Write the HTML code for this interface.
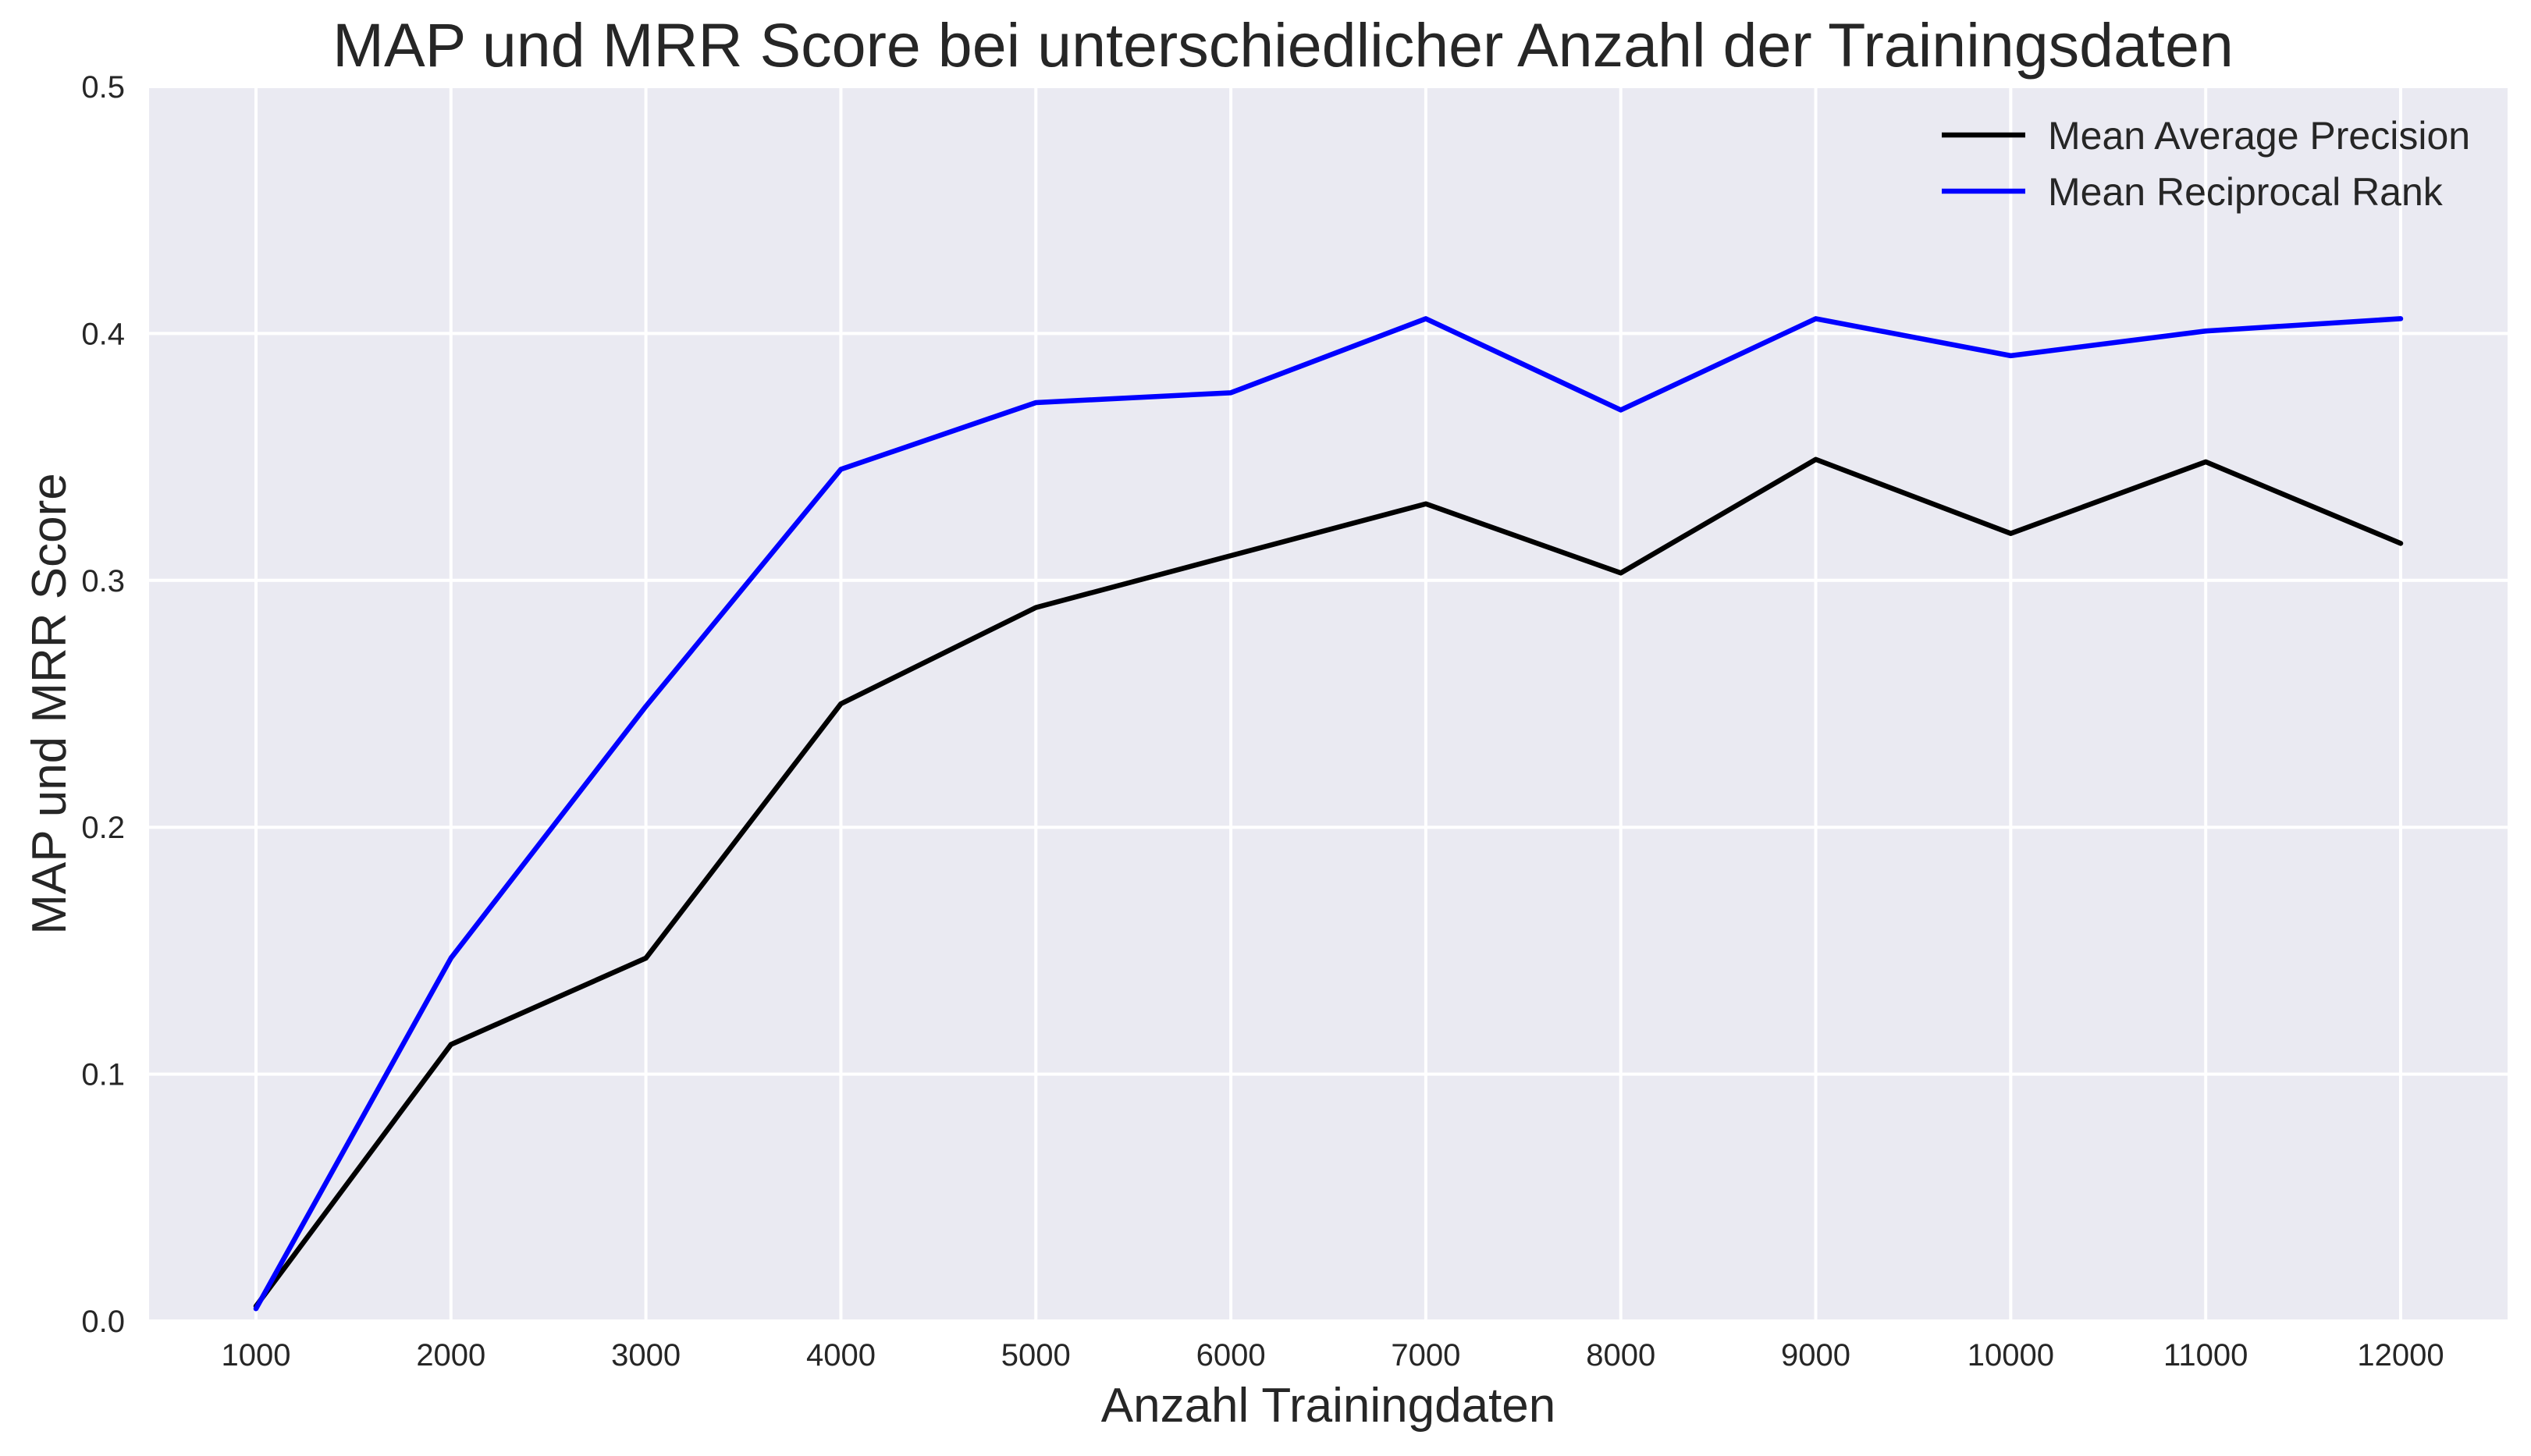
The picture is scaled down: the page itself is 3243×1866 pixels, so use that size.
<!DOCTYPE html>
<html><head><meta charset="utf-8"><style>
html,body{margin:0;padding:0;background:#fff;}
svg{display:block;font-family:"Liberation Sans",Arial,sans-serif;}
</style></head><body>
<svg id="chart" width="3243" height="1866" viewBox="0 0 3243 1866" xmlns="http://www.w3.org/2000/svg">
<rect x="191" y="111" width="3022" height="1582" fill="#eaeaf2"/>
<g id="grid"></g>
<g id="ticks"></g>
<g id="series"></g>
<text x="1644" y="85" font-size="79" fill="#262626" text-anchor="middle">MAP und MRR Score bei unterschiedlicher Anzahl der Trainingsdaten</text>
<text x="1702" y="1822" font-size="62" fill="#262626" text-anchor="middle">Anzahl Trainingdaten</text>
<text x="0" y="0" font-size="62" fill="#262626" text-anchor="middle" transform="translate(84,902) rotate(-90)">MAP und MRR Score</text>
<g>
<g>
<line x1="2488" y1="173" x2="2595" y2="173" stroke="#000" stroke-width="6.5"/>
<text x="2624" y="191" font-size="50" fill="#262626">Mean Average Precision</text>
</g>
<g>
<line x1="2488" y1="245" x2="2595" y2="245" stroke="#0000ff" stroke-width="6.5"/>
<text x="2624" y="263" font-size="50" fill="#262626">Mean Reciprocal Rank</text>
</g>
</g>
</svg>
<script>
const categories = [1000,2000,3000,4000,5000,6000,7000,8000,9000,10000,11000,12000];
const mapValues = [0.006,0.112,0.147,0.250,0.289,0.310,0.331,0.303,0.349,0.319,0.348,0.315];
const mrrValues = [0.005,0.147,0.249,0.345,0.372,0.376,0.406,0.369,0.406,0.391,0.401,0.406];
const yTicks = [0.0,0.1,0.2,0.3,0.4,0.5];
const yTickLabels = ["0.0","0.1","0.2","0.3","0.4","0.5"];

const NS = "http://www.w3.org/2000/svg";
const L=191,R=3213,T=111,B=1693;
const xs = v => 328 + (v-1000)*(3076-328)/11000;
const ys = v => B - (v-0)*(B-T)/0.5;
function mk(tag, attrs, parent){const e=document.createElementNS(NS,tag);for(const k in attrs)e.setAttribute(k,attrs[k]);parent.appendChild(e);return e;}
const grid=document.getElementById('grid'), ticks=document.getElementById('ticks'), series=document.getElementById('series');
categories.forEach(c=>{
  const g=mk('line',{x1:xs(c),x2:xs(c),y1:T,y2:B,stroke:'#fff','stroke-width':4},grid);
  
  
  const t=mk('text',{x:xs(c),y:1750,'font-size':40,fill:'#262626','text-anchor':'middle'},ticks);
  t.textContent=String(c);
  
  
});
yTicks.forEach((v,i)=>{
  const g=mk('line',{x1:L,x2:R,y1:ys(v),y2:ys(v),stroke:'#fff','stroke-width':4},grid);
  
  
  const t=mk('text',{x:160,y:ys(v)+14,'font-size':40,fill:'#262626','text-anchor':'end'},ticks);
  t.textContent=yTickLabels[i];
  
  
});
function line(vals,color,name){
  const p=mk('polyline',{points:vals.map((v,i)=>xs(categories[i])+','+ys(v)).join(' '),fill:'none',stroke:color,'stroke-width':6.5,'stroke-linejoin':'round','stroke-linecap':'round'},series);
  
  
}
line(mapValues,'#000','map-line');
line(mrrValues,'#0000ff','mrr-line');
</script>
</body></html>
